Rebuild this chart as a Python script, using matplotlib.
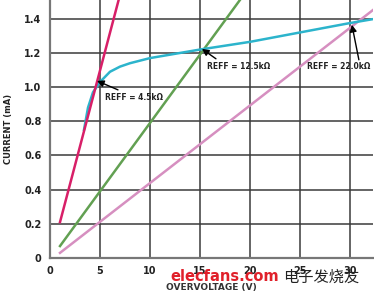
import numpy as np
import matplotlib
matplotlib.use("Agg")
import matplotlib.pyplot as plt

# data
v_red = [1.0, 7.0]
i_red = [0.21, 1.54]
v_green = [1.0, 19.5]
i_green = [0.07, 1.55]
v_pink = [1.0, 32.5]
i_pink = [0.03, 1.46]
v_cyan = [3.4, 3.8, 4.3, 5.0, 6.0, 7.0, 8.0, 10.0, 15.0, 20.0, 25.0, 30.0, 32.5]
i_cyan = [0.75, 0.88, 0.97, 1.03, 1.09, 1.12, 1.14, 1.17, 1.22, 1.265, 1.32, 1.375, 1.40]

labels = ["REFF = 4.5k\u03a9", "REFF = 12.5k\u03a9", "REFF = 22.0k\u03a9"]
tips = [(4.7, 1.037), (15.2, 1.224), (30.2, 1.365)]
tails = [(6.8, 0.984), (16.6, 1.166), (30.9, 1.16)]
texts = [(5.5, 0.94), (15.7, 1.12), (25.7, 1.12)]

xticks = [0, 5, 10, 15, 20, 25, 30]
yticks = [0, 0.2, 0.4, 0.6, 0.8, 1.0, 1.2, 1.4]

fig = plt.figure(figsize=(3.74, 2.97), dpi=100)
ax = fig.add_axes([0.1337, 0.1313, 0.8633, 0.8687])

ax.set_xlim(0, 32.3)
ax.set_ylim(0, 1.51)

for x in xticks[1:]:
    ax.axvline(x, color="#3a3a3a", lw=1.1, zorder=1)
for y in yticks[1:]:
    ax.axhline(y, color="#3a3a3a", lw=1.1, zorder=1)

ax.plot(v_pink, i_pink, color="#d68fc0", lw=1.8, zorder=3)
ax.plot(v_green, i_green, color="#62a052", lw=1.8, zorder=3)
ax.plot(v_cyan, i_cyan, color="#2cb4cc", lw=1.8, zorder=3)
ax.plot(v_red, i_red, color="#d81f68", lw=1.8, zorder=4)

for lab, tip, tail, txt in zip(labels, tips, tails, texts):
    ax.text(txt[0], txt[1], lab, fontsize=5.5, fontweight="bold",
            va="center", ha="left", color="#222222", zorder=5)
    ax.annotate("", xy=tip, xytext=tail, zorder=5,
                arrowprops=dict(arrowstyle="-|>", color="black", lw=1.0,
                                mutation_scale=10, shrinkA=0, shrinkB=0))

ax.set_xticks(xticks)
ax.set_yticks(yticks)
ax.set_yticklabels(["0", "0.2", "0.4", "0.6", "0.8", "1.0", "1.2", "1.4"])
ax.tick_params(length=0, labelsize=7, pad=6, colors="#222222")
for lab in ax.get_xticklabels() + ax.get_yticklabels():
    lab.set_fontweight("bold")

for s in ["top", "right"]:
    ax.spines[s].set_visible(False)
for s in ["left", "bottom"]:
    ax.spines[s].set_color("#777777")
    ax.spines[s].set_linewidth(1.6)

fig.text(0.024, 0.566, "CURRENT (mA)", rotation=90, ha="center", va="center",
         fontsize=6, fontweight="bold", color="#222222")
fig.text(0.565, 0.033, "OVERVOLTAGE (V)", ha="center", va="center",
         fontsize=6.5, fontweight="bold", color="#333333")

# watermark
fig.text(0.455, 0.07, "elecfans.com", ha="left", va="center", fontsize=10.5,
         fontweight="bold", color="#e0202a", family=["DejaVu Sans"])
fig.text(0.757, 0.067, "\u7535\u5b50\u53d1\u70e7\u53cb", ha="left", va="center",
         fontsize=11, color="#222222", family=["Noto Sans CJK SC", "DejaVu Sans"])

fig.savefig("out.png", dpi=100)
